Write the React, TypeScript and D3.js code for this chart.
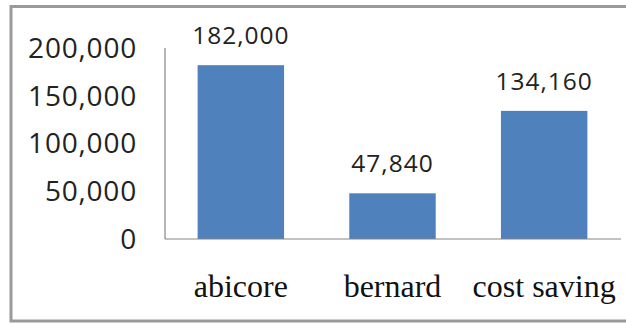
import React from "react";
import * as d3 from "d3";

const categories = ["abicore", "bernard", "cost saving"];
const values = [182000, 47840, 134160];
const yTicks = [0, 50000, 100000, 150000, 200000];

const W = 626;
const H = 324;

export default function App() {
  const x = d3
    .scaleBand<string>()
    .domain(categories)
    .range([165, 620])
    .paddingInner(0.43)
    .paddingOuter(0.215);
  const y = d3.scaleLinear().domain([0, 200000]).range([239, 48]);
  const fmt = d3.format(",");

  return (
    <svg
      width={W}
      height={H}
      style={{ position: "absolute", left: 0, top: 0, background: "#fff" }}
    >
      {/* frame */}
      <path
        d={`M${W + 2},6.5 H11 V321 H${W + 2}`}
        fill="none"
        stroke="#9a9a9a"
        strokeWidth={3}
      />
      {/* bars */}
      {categories.map((c, i) => (
        <rect
          key={c}
          x={x(c)}
          y={y(values[i])}
          width={x.bandwidth()}
          height={y(0) - y(values[i])}
          fill="#4f81bd"
        />
      ))}
      {/* axes */}
      <line x1={165} x2={165} y1={y(200000)} y2={y(0)} stroke="#868686" strokeWidth={1.2} />
      <line x1={165} x2={621} y1={y(0)} y2={y(0)} stroke="#868686" strokeWidth={1.2} />
      {/* y tick labels */}
      {yTicks.map((t) => (
        <text
          key={t}
          x={137}
          y={y(t)}
          dy="0.35em"
          textAnchor="end"
          fontFamily="'Open Sans', 'Liberation Sans', sans-serif"
          fontSize={28}
          letterSpacing={0.8}
          fill="#222"
        >
          {fmt(t)}
        </text>
      ))}
      {/* value labels */}
      {categories.map((c, i) => (
        <text
          key={c}
          x={(x(c) as number) + x.bandwidth() / 2}
          y={y(values[i]) - 21}
          textAnchor="middle"
          fontFamily="'Open Sans', 'Liberation Sans', sans-serif"
          fontSize={24.5}
          letterSpacing={1}
          fill="#222"
        >
          {fmt(values[i])}
        </text>
      ))}
      {/* category labels */}
      {categories.map((c) => (
        <text
          key={c}
          x={(x(c) as number) + x.bandwidth() / 2}
          y={297}
          textAnchor="middle"
          fontFamily="'Liberation Serif', 'DejaVu Serif', serif"
          fontSize={32}
          fill="#111"
        >
          {c}
        </text>
      ))}
    </svg>
  );
}
